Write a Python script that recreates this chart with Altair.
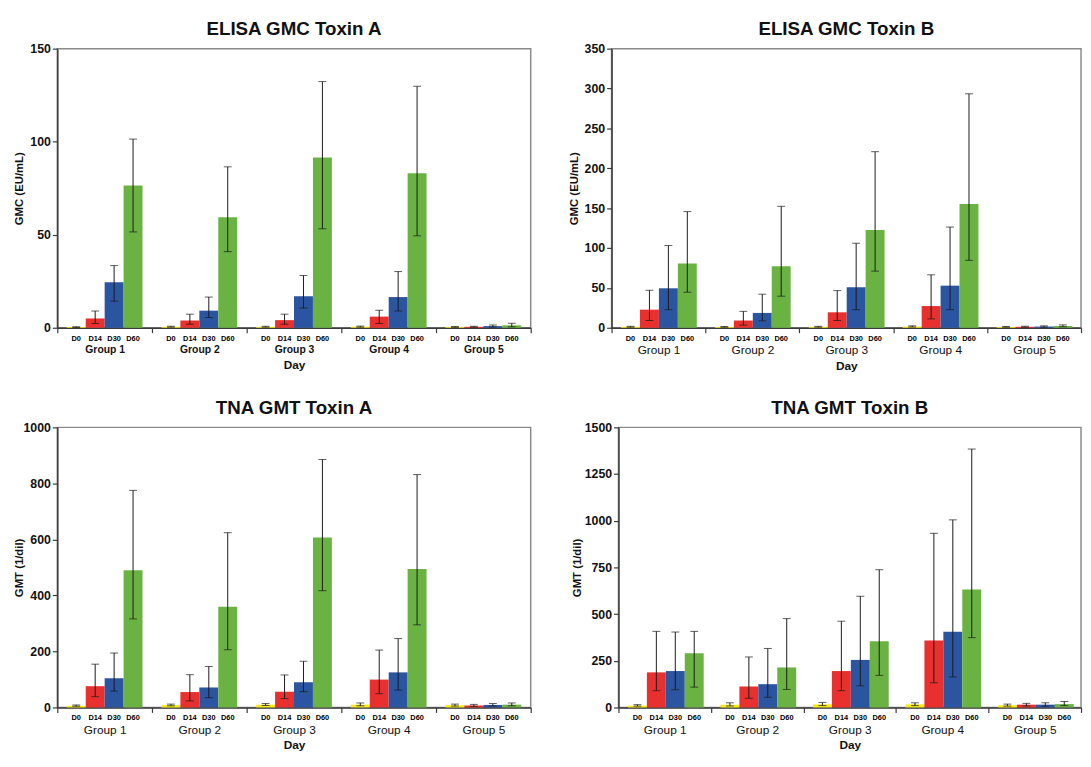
import altair as alt
import pandas as pd

groups = ["Group 1", "Group 2", "Group 3", "Group 4", "Group 5"]
days = ["D0", "D14", "D30", "D60"]
bar_colors = ["#F5EA1C", "#E8312F", "#2B55A1", "#6AB343"]

# ELISA GMC Toxin A (EU/mL): values per group (D0, D14, D30, D60), with 95% CI
elisa_a_val = [0.4, 5.0, 24.4, 76.4,  0.5, 3.9, 9.2, 59.4,  0.5, 4.1, 17.0, 91.5,  0.6, 6.0, 16.5, 83.0,  0.4, 0.5, 0.9, 1.3]
elisa_a_lo = [0.2, 2.3, 14.3, 51.5,  0.3, 1.9, 5.5, 40.9,  0.3, 1.9, 10.6, 53.2,  0.3, 2.3, 9.0, 49.4,  0.2, 0.3, 0.4, 0.5]
elisa_a_hi = [0.6, 9.0, 33.4, 101.4,  0.8, 7.3, 16.5, 86.5,  0.8, 7.3, 28.1, 132.3,  0.9, 9.4, 30.2, 129.8,  0.7, 0.8, 1.5, 2.4]

# ELISA GMC Toxin B (EU/mL)
elisa_b_val = [1.2, 22.7, 49.5, 80.5,  1.0, 9.1, 18.6, 77.2,  1.2, 19.4, 50.8, 122.6,  1.5, 27.2, 52.8, 155.2,  1.0, 1.2, 1.5, 2.2]
elisa_b_lo = [0.7, 9.1, 22.7, 44.6,  0.6, 3.3, 8.7, 39.6,  0.7, 9.1, 22.7, 71.0,  0.9, 11.1, 22.7, 84.6,  0.6, 0.7, 0.8, 1.2]
elisa_b_hi = [1.8, 47.0, 103.2, 145.7,  1.6, 20.6, 42.1, 152.3,  1.8, 46.6, 106.0, 220.8,  2.4, 66.4, 126.3, 293.4,  1.6, 1.9, 2.4, 3.6]

# TNA GMT Toxin A (1/dil)
tna_a_val = [6, 76, 104, 489.5,  9, 55, 71.4, 359.5,  10, 56.2, 90.2, 606.6,  10, 99.5, 125.3, 494,  8, 7, 9, 10]
tna_a_lo = [4, 38.6, 58.5, 316,  6, 23.4, 35, 206,  7, 31.6, 56.2, 416.9,  6, 49.2, 62, 295,  5, 4, 5, 6]
tna_a_hi = [9, 154.6, 194.4, 775,  12, 117, 146.4, 624,  14, 116, 165, 885.2,  16, 205, 246, 831.4,  12, 11, 14, 16]

# TNA GMT Toxin B (1/dil)
tna_b_val = [10, 188, 195, 289.8,  15, 112.4, 124.7, 214.3,  17, 195, 254.7, 354.8,  17, 358.3, 405.8, 632.4,  12, 15, 15, 18]
tna_b_lo = [7, 89.6, 94.8, 108.9,  8, 49.2, 54.5, 96.6,  10, 89.6, 116, 172,  10, 131.8, 163.4, 374,  7, 8, 7, 10]
tna_b_hi = [15, 407.6, 404, 407.5,  25, 270.5, 316, 476,  27, 462, 595.5, 737.7,  25, 932.7, 1004.7, 1384,  18, 22, 25, 32]

FONT = "Liberation Sans"


def make_frame(val, lo, hi):
    rows = []
    i = 0
    for g in groups:
        for d in days:
            rows.append({"Group": g, "Day": d, "v": val[i], "lo": lo[i], "hi": hi[i]})
            i += 1
    return pd.DataFrame(rows)


def panel(val, lo, hi, title, ytitle, ymax, yticks, w, h, grp_size, grp_weight, title_x):
    df = make_frame(val, lo, hi)
    caps = pd.concat([df.assign(c=df["lo"]), df.assign(c=df["hi"])], ignore_index=True)

    x = alt.X(
        "Group:N", sort=groups,
        scale=alt.Scale(paddingInner=0, paddingOuter=0),
        axis=alt.Axis(
            title="Day", tickBand="extent", tickSize=5, labelAngle=0,
            labelPadding=12, labelFontSize=grp_size, labelFontWeight=grp_weight,
            titlePadding=5, titleFontSize=12, titleFontWeight="bold",
        ),
    )
    xo = alt.XOffset("Day:N", sort=days, scale=alt.Scale(paddingInner=0, paddingOuter=0.5))
    yscale = alt.Scale(domain=[0, ymax], nice=False)
    yaxis = alt.Axis(
        values=yticks, format="d", title=ytitle, titleX=title_x, tickSize=5, labelPadding=2,
        labelFontSize=12.5, labelFontWeight="bold", titleFontSize=11.5, titleFontWeight="bold",
        grid=False,
    )

    bars = alt.Chart(df).mark_bar().encode(
        x=x, xOffset=xo,
        y=alt.Y("v:Q", scale=yscale, axis=yaxis),
        color=alt.Color("Day:N", sort=days, scale=alt.Scale(domain=days, range=bar_colors), legend=None),
    )
    rules = alt.Chart(df).mark_rule(color="#1a1a1a", strokeWidth=1).encode(
        x=x, xOffset=xo,
        y=alt.Y("lo:Q", scale=yscale, axis=yaxis),
        y2="hi:Q",
    )
    ticks = alt.Chart(caps).mark_tick(color="#1a1a1a", thickness=1, size=8, orient="horizontal").encode(
        x=x, xOffset=xo,
        y=alt.Y("c:Q", scale=yscale, axis=yaxis),
    )
    labels = alt.Chart(df).mark_text(fontSize=7.5, fontWeight="bold", baseline="middle", font=FONT).encode(
        x=x, xOffset=xo, y=alt.value(h + 11), text="Day:N",
    )
    return alt.layer(bars, rules, ticks, labels).properties(
        width=w, height=h,
        title=alt.TitleParams(title, fontSize=19, fontWeight="bold", font=FONT, offset=4,
                              frame="group", anchor="middle"),
    )


p1 = panel(elisa_a_val, elisa_a_lo, elisa_a_hi, "ELISA GMC Toxin A", "GMC (EU/mL)",
           150, [0, 50, 100, 150], 480, 283, 10.5, "bold", -33)
p2 = panel(elisa_b_val, elisa_b_lo, elisa_b_hi, "ELISA GMC Toxin B", "GMC (EU/mL)",
           350, [0, 50, 100, 150, 200, 250, 300, 350], 476, 283, 12, "normal", -33)
p3 = panel(tna_a_val, tna_a_lo, tna_a_hi, "TNA GMT Toxin A", "GMT (1/dil)",
           1000, [0, 200, 400, 600, 800, 1000], 480, 284, 12, "normal", -33)
p4 = panel(tna_b_val, tna_b_lo, tna_b_hi, "TNA GMT Toxin B", "GMT (1/dil)",
           1500, [0, 250, 500, 750, 1000, 1250, 1500], 469, 284, 12, "normal", -37)

row1 = alt.hconcat(p1, p2, spacing=35)
row2 = alt.hconcat(p3, p4, spacing=38)

chart = (
    alt.vconcat(row1, row2, spacing=26)
    .properties(padding={"left": 5, "top": 6, "right": 0, "bottom": 0})
    .configure(font=FONT)
    .configure_view(stroke="#8a8a8a", strokeWidth=1.5)
    .configure_axis(
        domainColor="#3a3a3a", domainWidth=1.5, tickColor="#3a3a3a", tickWidth=1.2,
        labelColor="#111111", titleColor="#111111", labelFont=FONT, titleFont=FONT,
    )
    .configure_title(color="#111111")
)

chart.save("out.html", embed_options={"renderer": "svg", "actions": False})
